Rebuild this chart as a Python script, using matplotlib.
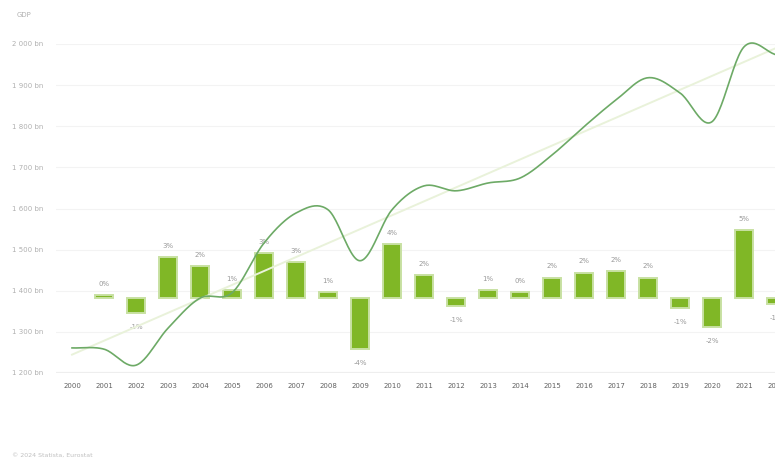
"""GDP with annual growth bars, 775x459px"""
import numpy as np
import matplotlib
matplotlib.use("Agg")
import matplotlib.pyplot as plt

# data
years = list(range(2000, 2023))
gdp = [1261, 1258, 1219, 1309, 1382, 1395, 1516, 1589, 1597, 1473, 1597, 1655,
       1643, 1662, 1674, 1730, 1799, 1864, 1918, 1881, 1811, 1993, 1974]
growth = [np.nan, 0.2, -1.2, 3.2, 2.5, 0.6, 3.5, 2.8, 0.5, -4.0, 4.2, 1.8,
          -0.6, 0.6, 0.5, 1.6, 2.0, 2.1, 1.6, -0.8, -2.3, 5.3, -0.5]
growth_labels = ["", "0%", "-1%", "3%", "2%", "1%", "3%", "3%", "1%", "-4%", "4%", "2%",
                 "-1%", "1%", "0%", "2%", "2%", "2%", "2%", "-1%", "-2%", "5%", "-1%"]
yticks = [1200, 1300, 1400, 1500, 1600, 1700, 1800, 1900, 2000]
ytick_labels = ["1 200 bn", "1 300 bn", "1 400 bn", "1 500 bn", "1 600 bn",
                "1 700 bn", "1 800 bn", "1 900 bn", "2 000 bn"]

BAR = "#80b726"
BAR_EDGE = "#c8e1a3"
LINE = "#6daa66"
TREND = "#e9f2da"
GRID = "#f3f3f3"
TXT = "#b0b0b0"

W, H = 775, 459


def smooth(x, y, n=24):
    # catmull-rom through the yearly points, only for drawing
    x = np.asarray(x, float)
    y = np.asarray(y, float)
    px = np.concatenate([[2 * x[0] - x[1]], x, [2 * x[-1] - x[-2]]])
    py = np.concatenate([[2 * y[0] - y[1]], y, [2 * y[-1] - y[-2]]])
    xs, ys = [], []
    t = np.linspace(0, 1, n, endpoint=False)
    for i in range(1, len(px) - 2):
        for P, out in ((px, xs), (py, ys)):
            p0, p1, p2, p3 = P[i - 1], P[i], P[i + 1], P[i + 2]
            out.extend(0.5 * (2 * p1 + (-p0 + p2) * t
                              + (2 * p0 - 5 * p1 + 4 * p2 - p3) * t ** 2
                              + (-p0 + 3 * p1 - 3 * p2 + p3) * t ** 3))
    xs.append(x[-1])
    ys.append(y[-1])
    return np.array(xs), np.array(ys)


fig = plt.figure(figsize=(W / 100, H / 100), dpi=100)
fig.patch.set_facecolor("white")

left, right, bottom, top = 56, 792, 373, 44
ax = fig.add_axes([left / W, (H - bottom) / H, (right - left) / W, (bottom - top) / H])
ax.set_facecolor("none")
idx = np.arange(len(years))
ax.set_xlim(-0.5, len(years) - 0.5)
ax.set_ylim(1200, 2000)
ax.set_yticks(yticks)
ax.set_yticklabels(ytick_labels)
ax.grid(axis="y", color=GRID, linewidth=0.8)
ax.set_axisbelow(True)
for s in ax.spines.values():
    s.set_visible(False)
ax.axhline(1200, color="#eeeeee", linewidth=1.6, zorder=0)
ax.tick_params(axis="y", length=0, pad=9, labelsize=5, labelcolor=TXT)
ax.set_xticks(idx)
ax.set_xticklabels([str(y) for y in years])
ax.tick_params(axis="x", length=0, pad=7, labelsize=5, labelcolor="#606060")

# bars on their own scale
axb = ax.twinx()
axb.set_ylim(-75 / 12.75, (329 - 75) / 12.75)
axb.axis("off")
g = np.array(growth)
axb.bar(idx, g, width=0.58, color=BAR, edgecolor=BAR_EDGE, linewidth=1.4, zorder=2)
for i, (v, lab) in enumerate(zip(g, growth_labels)):
    if np.isnan(v):
        continue
    off = 8 if v >= 0 else -10
    axb.annotate(lab, (i, v), xytext=(0, off), textcoords="offset points",
                 ha="center", va="center", fontsize=5, color="#9a9a9a")

# line and trend on a separate overlay so they sit above the bars
axl = ax.twinx()
axl.set_ylim(1200, 2000)
axl.axis("off")
k, b = np.polyfit(idx, gdp, 1)
axl.plot(idx, k * idx + b, color=TREND, linewidth=1.4, zorder=3, clip_on=False)
sx, sy = smooth(idx, gdp)
axl.plot(sx, sy, color=LINE, linewidth=1.2, zorder=4, clip_on=False)

fig.text(17 / W, 1 - 15 / H, "GDP", fontsize=5, color=TXT, ha="left", va="center")
fig.text(12 / W, 1 - 455 / H, "© 2024 Statista, Eurostat", fontsize=4.5,
         color="#c0c0c0", ha="left", va="center")

fig.savefig("out.png", dpi=100, facecolor="white")
plt.close(fig)
